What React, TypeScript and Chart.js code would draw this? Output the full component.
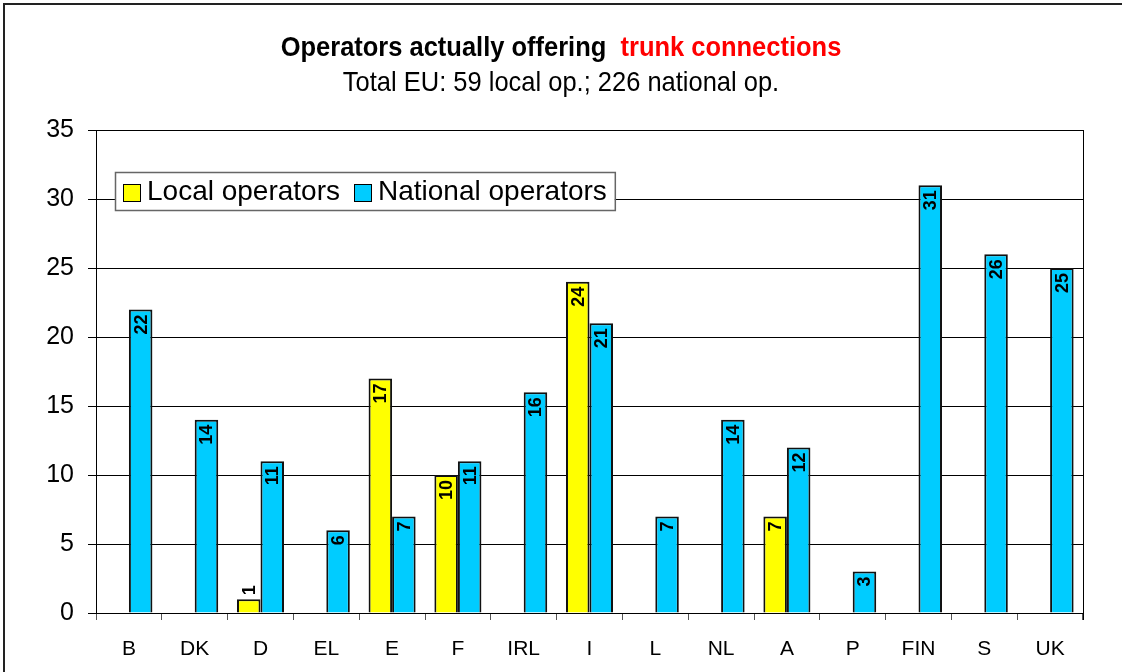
import React, { useEffect, useRef } from 'react';
import { Chart, registerables } from 'chart.js';

Chart.register(...registerables);

const categories = ['B', 'DK', 'D', 'EL', 'E', 'F', 'IRL', 'I', 'L', 'NL', 'A', 'P', 'FIN', 'S', 'UK'];
const localOperators = [null, null, 1, null, 17, 10, null, 24, null, null, 7, null, null, null, null];
const nationalOperators = [22, 14, 11, 6, 7, 11, 16, 21, 7, 14, 12, 3, 31, 26, 25];
const seriesLabels = ['Local operators', 'National operators'];
const seriesColors = ['#FFFF00', '#00CCFF'];
const titleMain = 'Operators actually offering  ';
const titleHighlight = 'trunk connections';
const subtitleText = 'Total EU: 59 local op.; 226 national op.';
const yMin = 0;
const yMax = 35;
const yStep = 5;

const FONT = '"Liberation Sans", Arial, sans-serif';

const framePlugin = {
  id: 'frame',
  beforeDraw(chart: any) {
    const { ctx, width, height } = chart;
    ctx.save();
    ctx.fillStyle = '#ffffff';
    ctx.fillRect(0, 0, width, height);
    ctx.strokeStyle = '#222';
    ctx.lineWidth = 2;
    ctx.strokeRect(4, 4, width + 20, height + 20);
    ctx.restore();
  },
  afterDraw(chart: any) {
    const { ctx, chartArea } = chart;
    ctx.save();
    ctx.strokeStyle = '#000';
    ctx.lineWidth = 1;
    ctx.beginPath();
    ctx.moveTo(Math.round(chartArea.right) + 0.5, chartArea.top);
    ctx.lineTo(Math.round(chartArea.right) + 0.5, chartArea.bottom + 7);
    ctx.stroke();

    // Title (condensed look)
    const cx = chart.width / 2;
    const squeeze = 0.91;
    ctx.textBaseline = 'alphabetic';
    ctx.font = `bold 28px ${FONT}`;
    const w1 = ctx.measureText(titleMain).width;
    const w2 = ctx.measureText(titleHighlight).width;
    const total = w1 + w2;
    ctx.save();
    ctx.translate(cx, 56);
    ctx.scale(squeeze, 1);
    ctx.textAlign = 'left';
    ctx.fillStyle = '#000';
    ctx.fillText(titleMain, -total / 2, 0);
    ctx.fillStyle = '#FF0000';
    ctx.fillText(titleHighlight, -total / 2 + w1, 0);
    ctx.restore();
    ctx.save();
    ctx.translate(cx, 91);
    ctx.scale(squeeze, 1);
    ctx.font = `28px ${FONT}`;
    ctx.fillStyle = '#000';
    ctx.textAlign = 'center';
    ctx.fillText(subtitleText, 0, 0);
    ctx.restore();

    // Legend
    const lx = 115, ly = 172, lh = 38;
    ctx.font = `28px ${FONT}`;
    const ds = chart.data.datasets;
    const widths = ds.map((d: any) => ctx.measureText(d.label).width);
    const box = 17;
    let lw = 8;
    widths.forEach((w: number, i: number) => { lw += box + 7 + w + (i < widths.length - 1 ? 14 : 8); });
    ctx.fillStyle = '#fff';
    ctx.fillRect(lx, ly, lw, lh);
    ctx.strokeStyle = '#666';
    ctx.lineWidth = 1.5;
    ctx.strokeRect(lx + 0.5, ly + 0.5, lw, lh);
    let px = lx + 8;
    ds.forEach((d: any, i: number) => {
      ctx.fillStyle = d.backgroundColor;
      ctx.fillRect(px, ly + 12, box, box);
      ctx.strokeStyle = '#000';
      ctx.lineWidth = 1;
      ctx.strokeRect(px + 0.5, ly + 12.5, box, box);
      ctx.fillStyle = '#000';
      ctx.textAlign = 'left';
      ctx.textBaseline = 'middle';
      ctx.fillText(d.label, px + box + 7, ly + lh / 2 + 1);
      px += box + 7 + widths[i] + 14;
    });
    ctx.restore();
  },
};

const valueLabelPlugin = {
  id: 'valueLabels',
  afterDatasetsDraw(chart: any) {
    const { ctx } = chart;
    ctx.save();
    ctx.font = `bold 18px ${FONT}`;
    ctx.fillStyle = '#000';
    ctx.textBaseline = 'middle';
    chart.data.datasets.forEach((ds: any, di: number) => {
      const meta = chart.getDatasetMeta(di);
      meta.data.forEach((el: any, i: number) => {
        const v = ds.data[i];
        if (v === null || v === undefined) return;
        const txt = String(v);
        const tw = ctx.measureText(txt).width;
        const h = el.base - el.y;
        ctx.save();
        if (tw + 8 <= h) {
          ctx.translate(el.x + 1, el.y + 5);
          ctx.rotate(-Math.PI / 2);
          ctx.textAlign = 'right';
          ctx.fillText(txt, 0, 0);
        } else {
          ctx.translate(el.x + 1, el.y - 4);
          ctx.rotate(-Math.PI / 2);
          ctx.textAlign = 'left';
          ctx.fillText(txt, 0, 0);
        }
        ctx.restore();
      });
    });
    ctx.restore();
  },
};

export default function App() {
  const ref = useRef<HTMLCanvasElement | null>(null);
  useEffect(() => {
    if (!ref.current) return;
    const chart = new Chart(ref.current, {
      type: 'bar',
      data: {
        labels: categories,
        datasets: [
          {
            label: seriesLabels[0],
            data: localOperators,
            backgroundColor: seriesColors[0],
            borderColor: '#111',
            borderWidth: 2,
            categoryPercentage: 0.715,
            barPercentage: 1,
          },
          {
            label: seriesLabels[1],
            data: nationalOperators,
            backgroundColor: seriesColors[1],
            borderColor: '#111',
            borderWidth: 2,
            categoryPercentage: 0.715,
            barPercentage: 1,
          },
        ],
      },
      options: {
        responsive: false,
        animation: false,
        layout: { padding: { top: 130, right: 39, bottom: 0, left: 0 } },
        plugins: {
          legend: { display: false },
          title: { display: false },
          tooltip: { enabled: false },
        },
        scales: {
          x: {
            offset: true,
            grid: {
              offset: true,
              drawOnChartArea: false,
              color: '#555',
              tickLength: 7,
            },
            border: { display: true, color: '#000', width: 1 },
            ticks: {
              color: '#000',
              font: { family: FONT, size: 21 },
              padding: 17,
              maxRotation: 0,
            },
            afterFit(scale: any) { scale.height = 59; },
          },
          y: {
            min: yMin,
            max: yMax,
            ticks: {
              stepSize: yStep,
              color: '#000',
              font: { family: FONT, size: 25 },
              padding: 14,
            },
            grid: { color: '#000', lineWidth: 1, tickLength: 8 },
            border: { display: true, color: '#000', width: 1 },
            afterFit(scale: any) { scale.width = 96; },
          },
        },
      },
      plugins: [framePlugin, valueLabelPlugin],
    });
    return () => chart.destroy();
  }, []);
  return (
    <div style={{ position: 'absolute', left: 0, top: 0, width: 1122, height: 672, background: '#fff' }}>
      <canvas ref={ref} width={1122} height={672} style={{ width: 1122, height: 672, display: 'block' }} />
    </div>
  );
}
